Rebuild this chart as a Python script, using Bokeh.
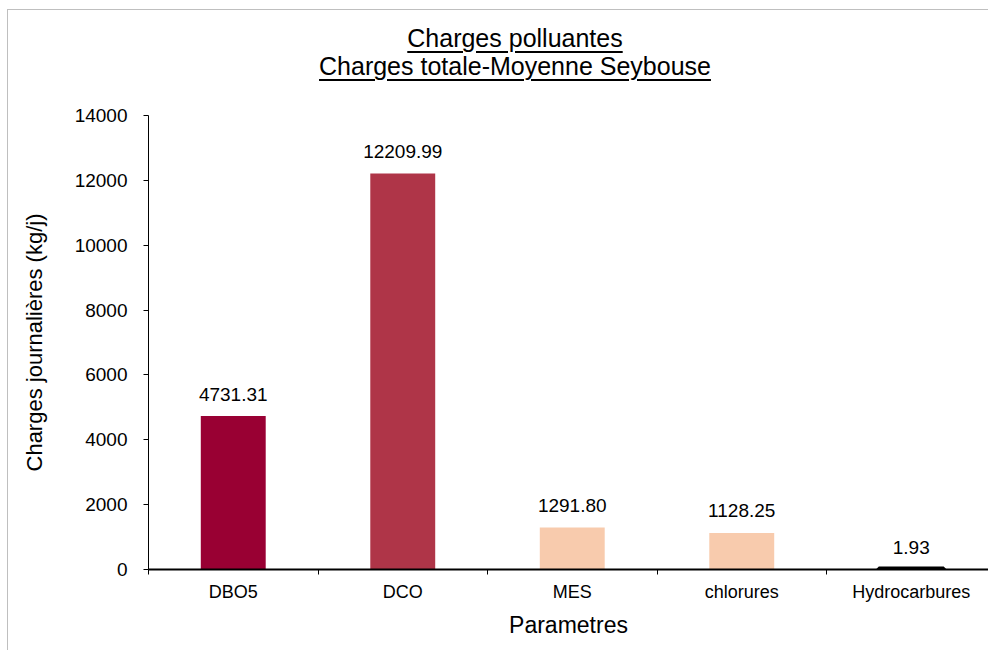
from bokeh.plotting import figure
from bokeh.layouts import column
from bokeh.models import ColumnDataSource, Range1d, FixedTicker, Div
from bokeh.core.properties import value
from bokeh.embed import file_html
from bokeh.resources import INLINE

# ---- data ----
categories = ["DBO5", "DCO", "MES", "chlorures", "Hydrocarbures"]
charges = [4731.31, 12209.99, 1291.80, 1128.25, 1.93]
bar_colors = ["#990033", "#AF3548", "#F8CBAD", "#F8CBAD", "#000000"]
title_lines = ["Charges polluantes", "Charges totale-Moyenne Seybouse"]
x_title = "Parametres"
y_title = "Charges journalières (kg/j)"
y_ticks = [0, 2000, 4000, 6000, 8000, 10000, 12000, 14000]
y_max = 14000

FONT = "Liberation Sans"

# ---- layout (page pixels) ----
OX, OY = 8, 10            # canvas origin in page pixels (after margin + border)
W = 980
TITLE_H = 95              # title strip: page y 10 .. 105
MAIN_H = 650 - OY - TITLE_H
AXIS_TOP = 115            # page y of value 14000
AXIS_BOTTOM = 569         # page y of value 0
FRAME_LEFT = 148 - OX
CAT_PX = 169.5            # width of one category in pixels
x_end = (W - FRAME_LEFT) / CAT_PX

# ---------------- title strip (underlined, two lines) ----------------
line_style = ("text-decoration: underline; text-decoration-thickness: 2px; "
              "text-underline-offset: 4px;")
title_html = (
    f'<div style="width:{W - 30}px; text-align:center; position:relative; left:32px; '
    f'padding-top:14px; font-family:\'{FONT}\'; font-size:25px; line-height:28px; '
    f'color:#000000;">'
    + "<br>".join(f'<span style="{line_style}">{s}</span>' for s in title_lines)
    + "</div>"
)
t = Div(text=title_html, width=W, height=TITLE_H, margin=0)

# ---------------- main chart ----------------
xpos = [i + 0.5 for i in range(len(categories))]
src = ColumnDataSource(dict(
    x=xpos,
    top=charges,
    color=bar_colors,
    lw=[0 if c != "#000000" else 6 for c in bar_colors],
    lc=[None if c != "#000000" else "#000000" for c in bar_colors],
    label=["%.2f" % v for v in charges],
))

top_border = AXIS_TOP - (OY + TITLE_H)
p = figure(width=W, height=MAIN_H, output_backend="svg", toolbar_location=None,
           x_range=Range1d(0, x_end), y_range=Range1d(0, y_max),
           min_border_left=FRAME_LEFT, min_border_right=0, min_border_top=top_border,
           min_border_bottom=(OY + TITLE_H + MAIN_H) - AXIS_BOTTOM)
p.outline_line_color = None
p.xgrid.grid_line_color = None
p.ygrid.grid_line_color = None
p.background_fill_color = "white"
p.border_fill_color = "white"

p.vbar(x="x", top="top", bottom=0, width=0.383, fill_color="color",
       line_color="lc", line_width="lw", source=src)

p.text(x="x", y="top", text="label", source=src, text_align="center",
       text_baseline="alphabetic", y_offset=-22,
       text_font=value(FONT), text_font_size="19px", text_color="#000000")

# x axis
xa = p.xaxis[0]
xa.ticker = FixedTicker(ticks=xpos, minor_ticks=list(range(len(categories) + 1)))
xa.major_label_overrides = {x: c for x, c in zip(xpos, categories)}
xa.major_tick_out = 0
xa.major_tick_in = 0
xa.minor_tick_out = 5
xa.minor_tick_in = 0
xa.minor_tick_line_color = "#000000"
xa.axis_line_color = "#000000"
xa.axis_line_width = 2
xa.major_label_text_font = FONT
xa.major_label_text_font_size = "18px"
xa.major_label_text_color = "#000000"
xa.major_label_standoff = 7
xa.axis_label = x_title
xa.axis_label_text_font = FONT
xa.axis_label_text_font_size = "23px"
xa.axis_label_text_font_style = "normal"
xa.axis_label_text_color = "#000000"
xa.axis_label_standoff = 7

# y axis
ya = p.yaxis[0]
ya.ticker = FixedTicker(ticks=y_ticks, minor_ticks=[])
ya.major_tick_out = 5
ya.major_tick_in = 0
ya.major_tick_line_color = "#000000"
ya.axis_line_color = "#000000"
ya.axis_line_width = 1
ya.major_label_text_font = FONT
ya.major_label_text_font_size = "19px"
ya.major_label_text_color = "#000000"
ya.major_label_standoff = 16
ya.axis_label = y_title
ya.axis_label_text_font = FONT
ya.axis_label_text_font_size = "22px"
ya.axis_label_text_font_style = "normal"
ya.axis_label_text_color = "#000000"
ya.axis_label_standoff = 25

layout = column(t, p, spacing=0)
layout.styles = {"margin-left": "7px", "margin-top": "9px",
                 "border-left": "1px solid #BFBFBF", "border-top": "1px solid #BFBFBF"}

open("out.html", "w").write(file_html(layout, INLINE))
